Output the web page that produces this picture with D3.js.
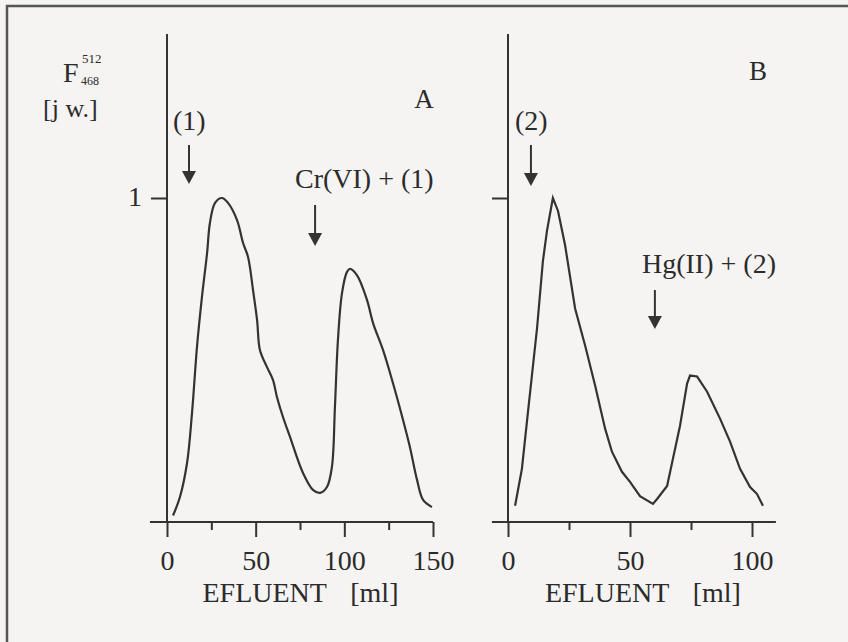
<!DOCTYPE html>
<html>
<head>
<meta charset="utf-8">
<script src="https://cdn.jsdelivr.net/npm/d3@7"></script>
<style>
body { margin: 0; background: #f5f4f2; }
text { font-family: "Liberation Serif", "DejaVu Serif", serif; fill: #2b2b2b; }
</style>
</head>
<body>
<div id="chart"></div>
<script>
var width = 848
var height = 642

// panel A : elution with (1), then Cr(VI) + (1)
const aMl = [3.4, 7.3, 11.3, 14.1, 16.9, 19.7, 22.6, 24.2, 27.1, 31.0, 34.4, 39.5, 42.9, 45.7, 48.5, 50.8,
    52.4, 56.4, 59.8, 62.0, 65.4, 69.4, 76.7, 82.3, 86.3, 90.2, 93.0, 94.7, 96.4, 98.7, 101.5, 103.2,
    107.1, 112.8, 116.2, 121.8, 127.4, 133.1, 137.0, 141.0, 144.4, 149.4]
const aF = [0.02, 0.077, 0.182, 0.336, 0.54, 0.694, 0.83, 0.923, 0.985, 1.0, 0.985, 0.932, 0.861, 0.818, 0.716, 0.623,
    0.531, 0.478, 0.438, 0.386, 0.324, 0.262, 0.151, 0.099, 0.09, 0.108, 0.17, 0.355, 0.562, 0.707, 0.772, 0.781,
    0.762, 0.685, 0.614, 0.531, 0.429, 0.315, 0.231, 0.13, 0.068, 0.046]

// panel B : elution with (2), then Hg(II) + (2)
const bMl = [2.9, 5.7, 8.2, 11.9, 14.3, 16.0, 18.4, 20.5, 23.4, 27.5, 31.6, 35.7, 39.8, 42.6, 46.7, 50.0,
    54.1, 59.4, 61.1, 65.2, 67.6, 70.5, 73.4, 74.6, 77.5, 81.6, 86.9, 91.0, 95.1, 99.2, 102.0, 104.5]
const bF = [0.05, 0.164, 0.341, 0.598, 0.805, 0.9, 1.0, 0.96, 0.854, 0.659, 0.545, 0.421, 0.288, 0.217, 0.155, 0.124,
    0.08, 0.056, 0.071, 0.111, 0.195, 0.297, 0.427, 0.452, 0.449, 0.402, 0.319, 0.248, 0.164, 0.108, 0.087, 0.05]

const aTicks = [0, 50, 100, 150]
const aMinor = [25, 75, 125]
const bTicks = [0, 50, 100]
const bMinor = [25, 75]

// arrows: label and position in ml
const aArrows = [{label: "(1)", ml: 12.4}, {label: "Cr(VI) + (1)", ml: 83.5}]
const bArrows = [{label: "(2)", ml: 9.4}, {label: "Hg(II) + (2)", ml: 60.2}]

const ink = "#333"

const svg = d3.select("#chart")
    .append('svg')
    .attr('width', width)
    .attr('height', height);

// page frame
svg.append("path")
    .attr("d", "M7,642 V6 H848")
    .attr("fill", "none")
    .attr("stroke", "#555")
    .attr("stroke-width", 2.5);

const y = d3.scaleLinear().domain([0, 1]).range([522, 198]);
const xA = d3.scaleLinear().domain([0, 150]).range([167, 433]);
const xB = d3.scaleLinear().domain([0, 100]).range([508, 752]);

function drawPanel(x, ml, f, ticks, minor, xExt, curve) {
    const g = svg.append("g");

    // x axis line
    g.append("line")
        .attr("x1", x(xExt[0])).attr("x2", x(xExt[1]))
        .attr("y1", y(0)).attr("y2", y(0))
        .attr("stroke", ink).attr("stroke-width", 2);
    // y axis line
    g.append("line")
        .attr("x1", x(0)).attr("x2", x(0))
        .attr("y1", 34).attr("y2", y(0))
        .attr("stroke", ink).attr("stroke-width", 2);

    const major = g.append("g")
        .attr("transform", "translate(0," + y(0) + ")")
        .call(d3.axisBottom(x).tickValues(ticks).tickSize(15).tickPadding(13).tickSizeOuter(0));
    major.select(".domain").remove();
    major.selectAll("line").attr("stroke", ink).attr("stroke-width", 2);
    major.selectAll("text")
        .attr("font-size", 28)
        .attr("font-family", "Liberation Serif")
        .attr("fill", "#2b2b2b");

    const mn = g.append("g")
        .attr("transform", "translate(0," + y(0) + ")")
        .call(d3.axisBottom(x).tickValues(minor).tickSize(8).tickFormat("").tickSizeOuter(0));
    mn.select(".domain").remove();
    mn.selectAll("line").attr("stroke", ink).attr("stroke-width", 2);

    const left = g.append("g")
        .attr("transform", "translate(" + x(0) + ",0)")
        .call(d3.axisLeft(y).tickValues([1]).tickSize(16).tickFormat("").tickSizeOuter(0));
    left.select(".domain").remove();
    left.selectAll("line").attr("stroke", ink).attr("stroke-width", 2);

    // elution curve
    g.append("path")
        .datum(ml.map((d, i) => [d, f[i]]))
        .attr("d", d3.line().x(d => x(d[0])).y(d => y(d[1])).curve(curve))
        .attr("fill", "none")
        .attr("stroke", ink)
        .attr("stroke-width", 2.2);

    // x title
    const cx = (x(xExt[0]) + x(xExt[1])) / 2 + 9;
    g.append("text").attr("x", cx - 98).attr("y", 602)
        .attr("font-size", 28).text("EFLUENT");
    g.append("text").attr("x", cx + 98).attr("y", 602)
        .attr("text-anchor", "end").attr("font-size", 28).text("[ml]");
    return g;
}

function arrow(g, xp, y1, y2, label, lx, ly, anchor) {
    g.append("line")
        .attr("x1", xp).attr("x2", xp).attr("y1", y1).attr("y2", y2 - 10)
        .attr("stroke", ink).attr("stroke-width", 2);
    g.append("path")
        .attr("d", "M" + (xp - 7) + "," + (y2 - 13) + " L" + (xp + 7) + "," + (y2 - 13) + " L" + xp + "," + y2 + " Z")
        .attr("fill", ink);
    g.append("text")
        .attr("x", lx).attr("y", ly)
        .attr("text-anchor", anchor)
        .attr("font-size", 28)
        .text(label);
}

const gA = drawPanel(xA, aMl, aF, aTicks, aMinor, [-9.6, 150], d3.curveCatmullRom.alpha(0.5));
const gB = drawPanel(xB, bMl, bF, bTicks, bMinor, [-6.6, 109.8], d3.curveLinear);

arrow(gA, xA(aArrows[0].ml), 145, 184, aArrows[0].label, 173, 130, "start");
arrow(gA, xA(aArrows[1].ml), 205, 246, aArrows[1].label, 295, 188, "start");
arrow(gB, xB(bArrows[0].ml), 145, 186, bArrows[0].label, 515, 130, "start");
arrow(gB, xB(bArrows[1].ml), 290, 329, bArrows[1].label, 642, 273, "start");

// "1" tick label on the first panel
gA.append("text").attr("x", 142).attr("y", 206)
    .attr("text-anchor", "end").attr("font-size", 28).text("1");

// panel letters
gA.append("text").attr("x", 424).attr("y", 108).attr("text-anchor", "middle").attr("font-size", 27).text("A");
gB.append("text").attr("x", 758).attr("y", 80).attr("text-anchor", "middle").attr("font-size", 27).text("B");

// y title
const yt = svg.append("g");
yt.append("text").attr("x", 63).attr("y", 82).attr("font-size", 28).text("F");
yt.append("text").attr("x", 82).attr("y", 63).attr("font-size", 13).text("512");
yt.append("text").attr("x", 81).attr("y", 85).attr("font-size", 12).text("468");
yt.append("text").attr("x", 43).attr("y", 117).attr("font-size", 26).text("[j w.]");
</script>
</body>
</html>
